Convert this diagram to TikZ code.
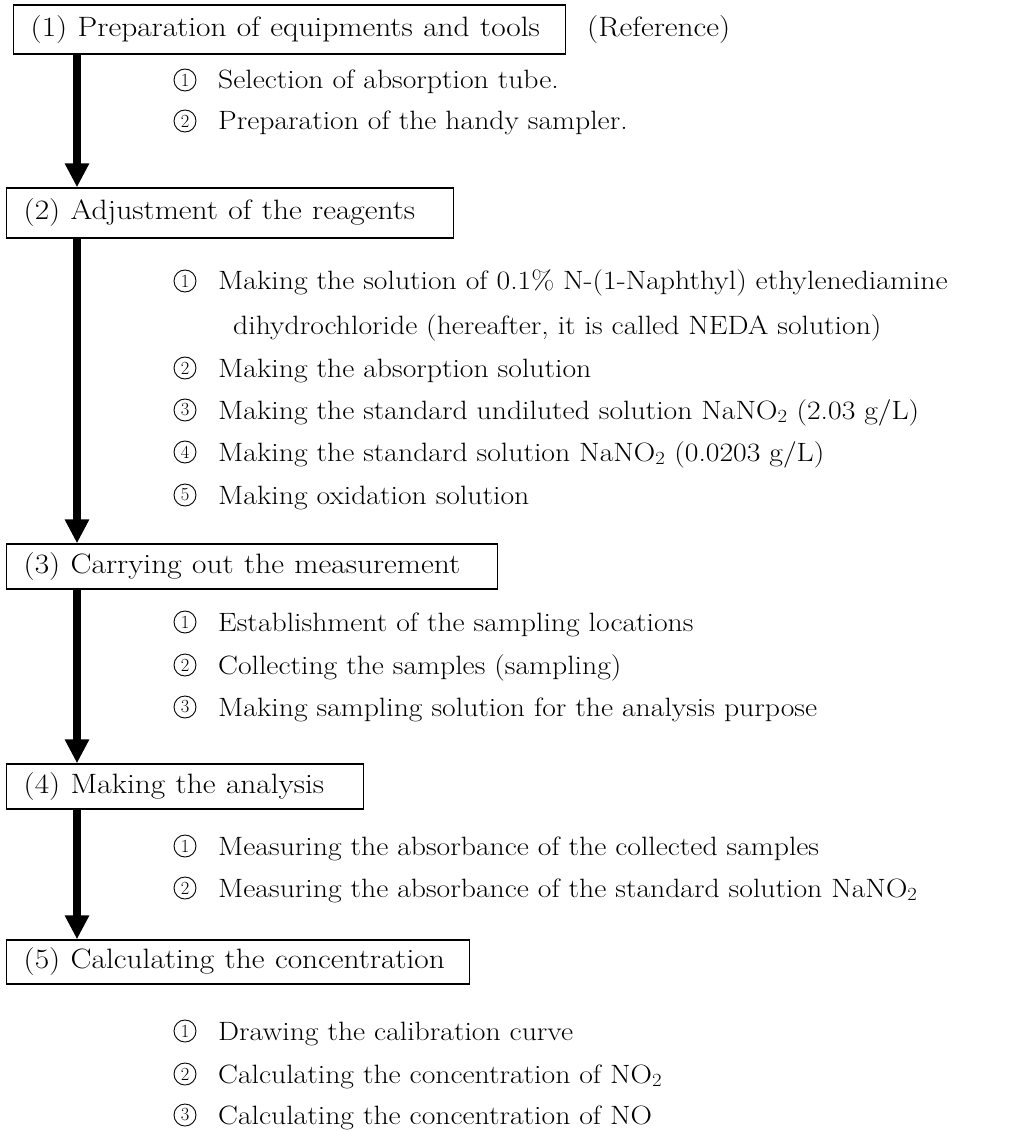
\documentclass[tikz,border=0pt]{standalone}
\usepackage{fontspec}
\usepackage{graphicx}
\usetikzlibrary{arrows.meta}
% widened Latin Modern, closer to a Century-style face
\newcommand\W[1]{\scalebox{1.12}[1]{#1}}
\begin{document}
\begin{tikzpicture}[x=1pt,y=-1pt,
  every node/.style={font=\fontsize{26.5}{31}\selectfont},
  stagebox/.style={draw, line width=1.4pt, anchor=west, inner xsep=17pt, inner ysep=0pt, align=left,
    font=\fontsize{28}{33}\selectfont},
  item/.style={anchor=base west, inner sep=0pt},
  cnum/.style={circle, draw, line width=0.9pt, inner sep=0pt, minimum size=22pt, font=\fontsize{18.5}{18.5}\selectfont},
  flow/.style={line width=7.5pt, -{Triangle[width=23pt,length=24pt]}}]
\useasboundingbox (0,0) rectangle (1016,1131);

% stage boxes
\node[stagebox, text width=518pt, minimum height=49pt] (b1) at (13,29.5) {\W{(1) Preparation of equipments and tools}};
\node[stagebox, text width=413pt, minimum height=50pt] (b2) at (6,213) {\W{(2) Adjustment of the reagents}};
\node[stagebox, text width=457pt, minimum height=45pt] (b3) at (6,566.5) {\W{(3) Carrying out the measurement}};
\node[stagebox, text width=323pt, minimum height=45pt] (b4) at (6,786.5) {\W{(4) Making the analysis}};
\node[stagebox, text width=429pt, minimum height=44pt] (b5) at (6,962) {\W{(5) Calculating the concentration}};

\coordinate (refx) at (587,0);
\node[anchor=base west, inner sep=0pt, font=\fontsize{28}{33}\selectfont] (ref) at (b1.base -| refx) {\W{(Reference)}};

% flow arrows
\coordinate (ax) at (77,0);
\draw[flow] (b1.south -| ax) -- (b2.north -| ax);
\draw[flow] (b2.south -| ax) -- (b3.north -| ax);
\draw[flow] (b3.south -| ax) -- (b4.north -| ax);
\draw[flow] (b4.south -| ax) -- (b5.north -| ax);

% (1) items
\node[cnum] (c11) at (185,80) {1};
\node[item] (t11) at (218,89) {\W{Selection of absorption tube.}};
\node[cnum] (c12) at (185,121) {2};
\node[item] (t12) at (218,130) {\W{Preparation of the handy sampler.}};

% (2) items
\node[cnum] (c21) at (185,281) {1};
\node[item] (t21) at (218,290) {\W{Making the solution of 0.1\% N-(1-Naphthyl) ethylenediamine}};
\node[item] (t21b) at (233,334) {\W{dihydrochloride (hereafter, it is called NEDA solution)}};
\node[cnum] (c22) at (185,368) {2};
\node[item] (t22) at (218,377) {\W{Making the absorption solution}};
\node[cnum] (c23) at (185,410) {3};
\node[item] (t23) at (218,419) {\W{Making the standard undiluted solution NaNO\textsubscript{2} (2.03 g/L)}};
\node[cnum] (c24) at (185,452) {4};
\node[item] (t24) at (218,461) {\W{Making the standard solution NaNO\textsubscript{2} (0.0203 g/L)}};
\node[cnum] (c25) at (185,495) {5};
\node[item] (t25) at (218,504) {\W{Making oxidation solution}};

% (3) items
\node[cnum] (c31) at (185,622) {1};
\node[item] (t31) at (218,631) {\W{Establishment of the sampling locations}};
\node[cnum] (c32) at (185,665) {2};
\node[item] (t32) at (218,674) {\W{Collecting the samples (sampling)}};
\node[cnum] (c33) at (185,707) {3};
\node[item] (t33) at (218,716) {\W{Making sampling solution for the analysis purpose}};

% (4) items
\node[cnum] (c41) at (185,846) {1};
\node[item] (t41) at (218,855) {\W{Measuring the absorbance of the collected samples}};
\node[cnum] (c42) at (185,888) {2};
\node[item] (t42) at (218,897) {\W{Measuring the absorbance of the standard solution NaNO\textsubscript{2}}};

% (5) items
\node[cnum] (c51) at (185,1031) {1};
\node[item] (t51) at (218,1040) {\W{Drawing the calibration curve}};
\node[cnum] (c52) at (185,1074) {2};
\node[item] (t52) at (218,1083) {\W{Calculating the concentration of NO\textsubscript{2}}};
\node[cnum] (c53) at (185,1115) {3};
\node[item] (t53) at (218,1124) {\W{Calculating the concentration of NO}};
\end{tikzpicture}
\end{document}
